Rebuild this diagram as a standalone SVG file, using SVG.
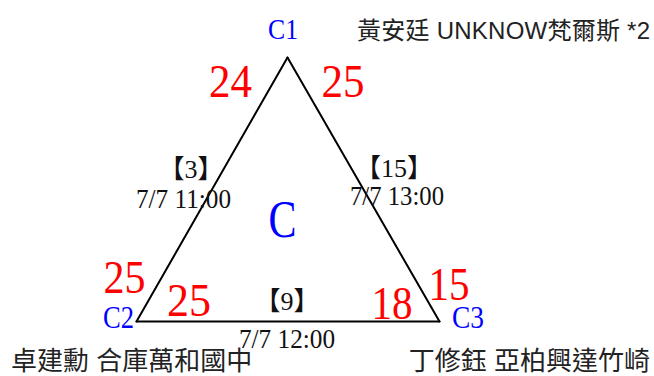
<svg xmlns="http://www.w3.org/2000/svg" width="654" height="376" viewBox="0 0 654 376">
<style>
.bg{fill:#ffffff}
.edge{stroke:#000;stroke-width:2;fill:none;stroke-linecap:round;stroke-linejoin:round}
.node{font-family:"Liberation Serif","Noto Sans CJK TC",serif;fill:#0000ff;text-anchor:middle}
.score{font-family:"Liberation Serif",serif;fill:#ff0000;font-size:46px;text-anchor:middle}
.game{font-family:"Liberation Serif","Noto Sans CJK TC",serif;fill:#111;font-size:26px;text-anchor:middle}
.time{font-family:"Liberation Serif",serif;fill:#111;font-size:28px;text-anchor:middle}
.name{font-family:"Liberation Sans","Noto Sans CJK TC",sans-serif;fill:#222}
</style>
<rect class="bg" x="0" y="0" width="654" height="376"/>
<g id="connectors">
<line id="edge-C1-C2" class="edge" x1="287.5" y1="57.5" x2="136.5" y2="321.5"/>
<line id="edge-C1-C3" class="edge" x1="287.5" y1="57.5" x2="439.5" y2="321.5"/>
<line id="edge-C2-C3" class="edge" x1="136.5" y1="321.5" x2="439.5" y2="321.5"/>
</g>
<g id="edge-labels">
<g id="label-C1-C2">
<text class="game" x="191" y="178">【3】</text>
<text class="time" x="183.5" y="208" textLength="95" lengthAdjust="spacingAndGlyphs">7/7 11:00</text>
</g>
<g id="label-C1-C3">
<text class="game" x="394" y="177">【15】</text>
<text class="time" x="397" y="205" textLength="94" lengthAdjust="spacingAndGlyphs">7/7 13:00</text>
</g>
<g id="label-C2-C3">
<text class="game" x="287" y="310">【9】</text>
<text class="time" x="287" y="348" textLength="96" lengthAdjust="spacingAndGlyphs">7/7 12:00</text>
</g>
</g>
<g id="scores">
<text class="score" x="230.5" y="97" textLength="43" lengthAdjust="spacingAndGlyphs">24</text>
<text class="score" x="343" y="97" textLength="43" lengthAdjust="spacingAndGlyphs">25</text>
<text class="score" x="124.5" y="293" textLength="42" lengthAdjust="spacingAndGlyphs">25</text>
<text class="score" x="189" y="316" textLength="44" lengthAdjust="spacingAndGlyphs">25</text>
<text class="score" x="392" y="319" textLength="41" lengthAdjust="spacingAndGlyphs">18</text>
<text class="score" x="449" y="300" textLength="41" lengthAdjust="spacingAndGlyphs">15</text>
</g>
<g id="node-C1">
<text class="node" x="283" y="39" font-size="30" textLength="30" lengthAdjust="spacingAndGlyphs">C1</text>
<text class="name" x="357" y="39" font-size="24" textLength="293" lengthAdjust="spacing">黃安廷 UNKNOW梵爾斯 *2</text>
</g>
<g id="node-C2">
<text class="node" x="118.5" y="328" font-size="32" textLength="31" lengthAdjust="spacingAndGlyphs">C2</text>
<text class="name" x="11" y="370" font-size="26">卓建勳 合庫萬和國中</text>
</g>
<g id="node-C3">
<text class="node" x="468" y="328" font-size="32" textLength="32" lengthAdjust="spacingAndGlyphs">C3</text>
<text class="name" x="650" y="370" font-size="26" text-anchor="end">丁修鈺 亞柏興達竹崎</text>
</g>
<g id="node-C">
<text class="node" x="282.5" y="237" font-size="53" textLength="28" lengthAdjust="spacingAndGlyphs">C</text>
</g>
</svg>
